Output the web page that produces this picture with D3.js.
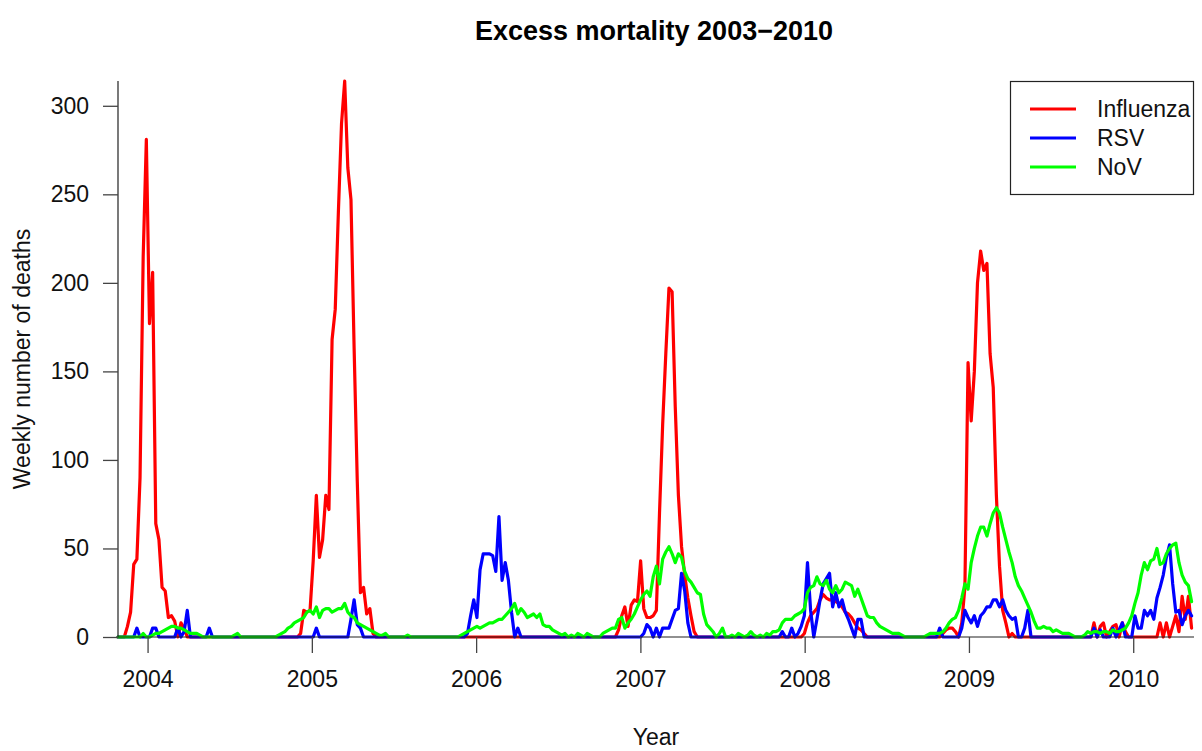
<!DOCTYPE html>
<html>
<head>
<meta charset="utf-8">
<script src="https://cdn.jsdelivr.net/npm/d3@7"></script>
<style>
  html, body { margin: 0; padding: 0; background: #fff; }
  svg { display: block; font-family: "Liberation Sans", Arial, sans-serif; }
</style>
</head>
<body>
<svg id="chart" width="1202" height="751"></svg>
<script>
// Weekly series, first week starting late October 2003 (decimal year below)
const startYear = 2003.82;
const weekInYears = 7 / 365.25;

const influenza = [
  0,0,0,6,14,41,44,90,215,281,177,206,64,55,28,26,11,12,9,0,
  8,5,0,0,0,0,0,0,0,0,0,0,0,0,0,0,0,0,0,0,
  0,0,0,0,0,0,0,0,0,0,0,0,0,0,0,0,0,0,2,15,
  14,15,43,80,45,55,80,72,168,185,240,290,314,265,247,163,88,25,28,13,
  16,2,0,0,0,0,0,0,0,0,0,0,0,0,0,0,0,0,0,0,
  0,0,0,0,0,0,0,0,0,0,0,0,0,0,0,0,0,0,0,0,
  0,0,0,0,0,0,0,0,0,0,0,0,0,0,0,0,0,0,0,0,
  0,0,0,0,0,0,0,0,0,0,0,0,0,0,0,0,0,0,0,4,
  12,17,6,18,21,20,43,16,11,11,12,15,70,120,160,197,195,130,80,51,
  35,22,12,3,0,0,0,0,0,0,0,0,0,0,0,0,0,0,0,0,
  0,0,0,0,0,0,0,0,0,0,0,0,0,0,0,0,0,0,2,8,
  12,14,16,21,24,22,21,21,20,19,17,14,13,11,8,5,4,2,0,0,
  0,0,0,0,0,0,0,0,0,0,0,0,0,0,0,0,0,0,0,0,
  0,0,2,4,5,5,3,0,8,28,155,122,150,200,218,207,211,160,141,80,
  40,15,8,0,2,0,0,0,0,0,0,0,0,0,0,0,0,0,0,0,
  0,0,0,0,0,0,0,0,0,0,8,0,6,8,0,3,6,7,0,8,
  3,0,0,0,0,0,0,0,0,0,0,8,0,8,0,6,12,3,23,10,
  23,5
];

const rsv = [
  0,0,0,0,0,0,5,0,0,0,0,5,5,0,0,0,0,0,0,5,
  0,3,15,0,0,0,0,0,0,5,0,0,0,0,0,0,0,0,0,0,
  0,0,0,0,0,0,0,0,0,0,0,0,0,0,0,0,0,0,0,0,
  0,0,0,5,0,0,0,0,0,0,0,0,0,0,10,21,7,5,0,0,
  0,0,0,0,0,0,0,0,0,0,0,0,0,0,0,0,0,0,0,0,
  0,0,0,0,0,0,0,0,0,0,0,2,12,21,11,38,47,47,47,46,
  37,68,32,42,32,14,0,5,0,0,0,0,0,0,0,0,0,0,0,0,
  0,0,0,0,0,0,0,0,0,0,0,0,0,0,0,0,0,0,0,0,
  0,0,0,0,0,0,0,2,7,5,0,5,0,5,5,5,10,15,16,36,
  26,8,0,0,0,0,0,0,0,0,0,0,0,0,0,0,0,0,0,0,
  0,0,0,0,0,0,0,0,0,0,0,3,0,0,5,0,2,6,12,42,
  15,0,10,21,30,33,36,17,25,17,21,14,10,5,0,10,10,0,0,0,
  0,0,0,0,0,0,0,0,0,0,0,0,0,0,0,0,0,0,0,0,
  0,5,0,0,0,0,0,0,5,15,11,8,12,6,12,14,17,17,21,21,
  17,21,15,12,10,11,0,0,5,15,0,0,0,0,0,0,0,0,0,0,
  0,0,0,0,0,0,0,0,0,0,5,0,4,0,0,0,5,0,4,8,
  0,0,0,12,5,5,15,12,15,10,22,28,35,45,52,30,14,15,7,12,
  15,12
];

const nov = [
  0,0,0,0,0,0,0,0,2,0,0,1,2,2,3,4,5,6,6,5,
  5,4,3,2,2,2,1,0,0,0,0,0,0,0,0,0,0,1,2,0,
  0,0,0,0,0,0,0,0,0,0,0,1,2,3,5,6,8,9,10,11,
  14,15,13,17,11,15,16,16,14,15,16,16,19,14,12,11,8,7,6,5,
  4,3,2,1,1,2,0,0,0,0,0,0,1,0,0,0,0,0,0,0,
  0,0,0,0,0,0,0,0,0,1,2,3,4,5,6,5,6,7,8,8,
  9,10,10,12,14,16,19,13,16,14,11,12,13,11,13,7,6,6,4,3,
  2,1,2,0,1,0,2,1,0,2,1,0,0,0,2,3,4,5,5,10,
  11,5,8,10,13,17,21,24,26,23,34,40,30,44,48,51,47,42,47,45,
  37,33,31,28,25,24,13,7,5,3,0,2,5,0,0,1,0,2,1,0,
  1,3,1,0,1,0,2,1,3,3,4,8,10,10,10,12,13,14,16,25,
  28,29,34,30,29,32,27,25,29,25,27,31,30,29,23,27,22,17,12,11,
  11,8,6,5,4,3,2,2,2,1,0,0,0,0,0,0,0,1,2,2,
  2,2,3,5,8,10,11,15,22,30,27,42,50,57,62,62,57,64,70,73,
  70,62,55,48,42,34,29,26,22,18,14,9,5,5,6,5,5,3,4,3,
  2,2,2,1,0,0,0,1,3,2,3,3,2,3,3,2,4,3,3,4,
  5,8,12,19,25,35,42,38,43,44,50,41,42,47,50,52,53,42,35,31,
  29,20
];

const seriesNames = ["Influenza", "RSV", "NoV"];
const seriesColors = ["#FF0000", "#0000FF", "#00FF00"];
const yearTicks = [2004, 2005, 2006, 2007, 2008, 2009, 2010];
const deathTicks = [0, 50, 100, 150, 200, 250, 300];

const svg = d3.select("#chart");
const plot = { left: 118, right: 1194, top: 81, bottom: 637 };

const x = d3.scaleLinear().domain([startYear, 2010.37]).range([plot.left, plot.right]);
const y = d3.scaleLinear().domain([0, 314]).range([plot.bottom, plot.top]);

const line = d3.line()
  .x((d, i) => x(startYear + i * weekInYears))
  .y(d => y(d));

// Series lines
[influenza, rsv, nov].forEach((vals, k) => {
  svg.append("path")
    .datum(vals)
    .attr("d", line)
    .attr("fill", "none")
    .attr("stroke", seriesColors[k])
    .attr("stroke-width", 3.2)
    .attr("stroke-linejoin", "round")
    .attr("stroke-linecap", "round");
});

// L-shaped frame
svg.append("path")
  .attr("d", `M${plot.left},${plot.top}V${plot.bottom}H${plot.right}`)
  .attr("fill", "none")
  .attr("stroke", "#222")
  .attr("stroke-width", 1.2);

// Y axis
const yAxis = svg.append("g").attr("transform", `translate(${plot.left},0)`)
  .call(d3.axisLeft(y).tickValues(deathTicks).tickSize(15).tickPadding(14));
yAxis.select(".domain").remove();
yAxis.selectAll(".tick line").attr("stroke", "#444").attr("stroke-width", 1.3);
yAxis.selectAll(".tick text")
  .attr("font-size", 23).attr("fill", "#111")
  .attr("font-family", "'Liberation Sans', Arial, sans-serif");

// X axis
const xAxis = svg.append("g").attr("transform", `translate(0,${plot.bottom})`)
  .call(d3.axisBottom(x).tickValues(yearTicks).tickFormat(d3.format("d")).tickSize(16).tickPadding(18));
xAxis.select(".domain").remove();
xAxis.selectAll(".tick line").attr("stroke", "#444").attr("stroke-width", 1.3);
xAxis.selectAll(".tick text")
  .attr("font-size", 23).attr("fill", "#111")
  .attr("font-family", "'Liberation Sans', Arial, sans-serif");

// Titles
svg.append("text")
  .attr("x", (plot.left + plot.right) / 2 - 2).attr("y", 40)
  .attr("text-anchor", "middle")
  .attr("font-size", 27).attr("font-weight", "bold").attr("fill", "#000")
  .text("Excess mortality 2003\u22122010");

svg.append("text")
  .attr("x", (plot.left + plot.right) / 2).attr("y", 745)
  .attr("text-anchor", "middle")
  .attr("font-size", 23).attr("fill", "#111")
  .text("Year");

svg.append("text")
  .attr("transform", `translate(30,${(plot.top + plot.bottom) / 2}) rotate(-90)`)
  .attr("text-anchor", "middle")
  .attr("font-size", 23).attr("fill", "#111")
  .text("Weekly number of deaths");

// Legend
const legend = svg.append("g");
legend.append("rect")
  .attr("x", 1010.5).attr("y", 81.5).attr("width", 183).attr("height", 113)
  .attr("fill", "#fff").attr("stroke", "#222").attr("stroke-width", 1.2);
seriesNames.forEach((name, k) => {
  const ly = 109 + k * 29;
  legend.append("line")
    .attr("x1", 1030).attr("x2", 1076).attr("y1", ly).attr("y2", ly)
    .attr("stroke", seriesColors[k]).attr("stroke-width", 3.2);
  legend.append("text")
    .attr("x", 1097).attr("y", ly + 8)
    .attr("font-size", 23).attr("fill", "#111")
    .text(name);
});
</script>
</body>
</html>
